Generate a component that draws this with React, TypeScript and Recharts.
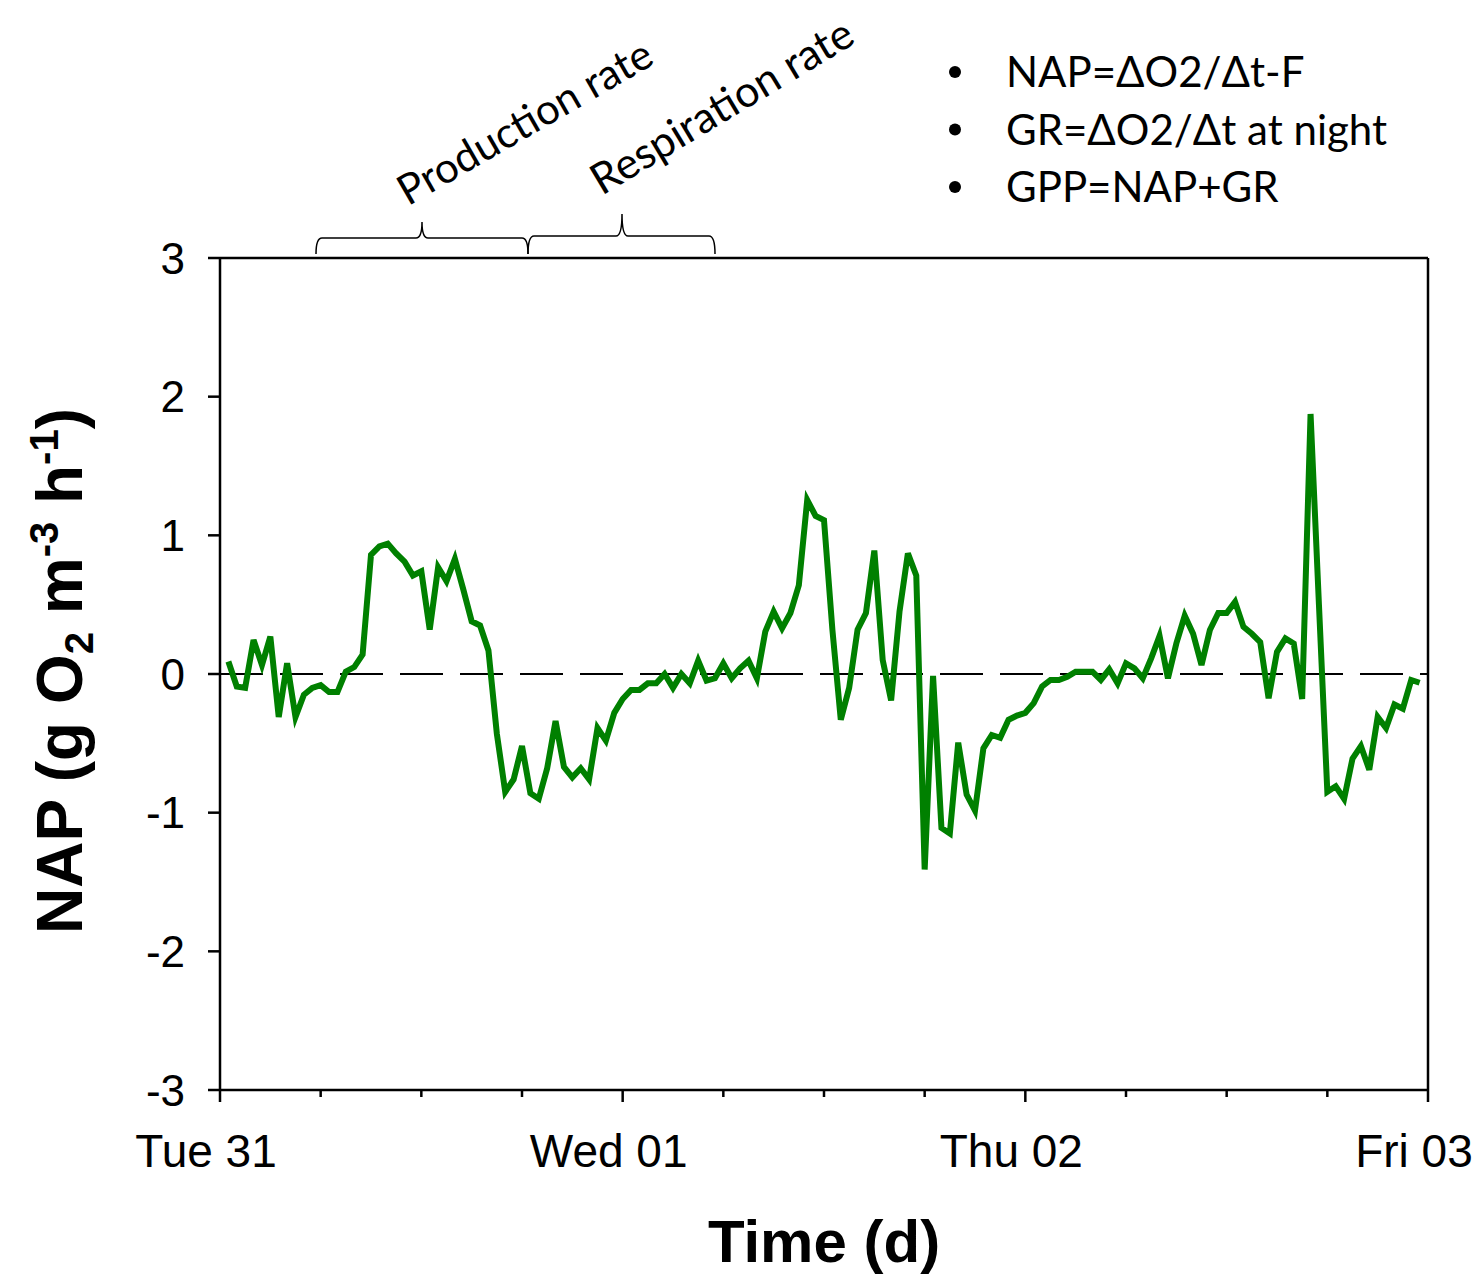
import React from 'react';
import { LineChart, Line, XAxis, YAxis, ReferenceLine } from 'recharts';

// NAP readings, one every half hour starting 00:30 Tue 31
const napValues = [
  0.09, -0.09, -0.1, 0.245, 0.065, 0.27, -0.31, 0.077, -0.31, -0.15,
  -0.1, -0.08, -0.13, -0.13, 0.017, 0.05, 0.14, 0.86, 0.92, 0.94,
  0.87, 0.81, 0.71, 0.74, 0.32, 0.77, 0.67, 0.83, 0.61, 0.38,
  0.35, 0.17, -0.43, -0.85, -0.76, -0.52, -0.86, -0.9, -0.68, -0.34,
  -0.67, -0.745, -0.68, -0.76, -0.39, -0.48, -0.28, -0.18, -0.115, -0.115,
  -0.067, -0.067, 0.0, -0.1, 0.0, -0.067, 0.096, -0.048, -0.031, 0.077,
  -0.031, 0.041, 0.096, -0.031, 0.305, 0.45, 0.33, 0.44, 0.64, 1.255,
  1.14, 1.11, 0.32, -0.33, -0.1, 0.32, 0.44, 0.89, 0.1, -0.19,
  0.45, 0.87, 0.71, -1.41, -0.014, -1.11, -1.15, -0.495, -0.87, -0.985,
  -0.536, -0.44, -0.46, -0.33, -0.3, -0.28, -0.21, -0.09, -0.043, -0.043,
  -0.02, 0.017, 0.017, 0.017, -0.043, 0.034, -0.067, 0.077, 0.041, -0.031,
  0.113, 0.274, -0.031, 0.22, 0.42, 0.29, 0.065, 0.317, 0.44, 0.44,
  0.52, 0.34, 0.29, 0.23, -0.175, 0.16, 0.257, 0.22, -0.18, 1.875,
  0.5, -0.85, -0.81, -0.9, -0.61, -0.52, -0.69, -0.31, -0.39, -0.22,
  -0.25, -0.043, -0.063,
];
const START_HOUR = 0.5;
const STEP_HOURS = 0.5;

const dayHours = [0, 24, 48, 72];
const dayLabels = ['Tue 31', 'Wed 01', 'Thu 02', 'Fri 03'];
const timeTicks = [0, 6, 12, 18, 24, 30, 36, 42, 48, 54, 60, 66, 72];
const napTicks = [-3, -2, -1, 0, 1, 2, 3];

const notes = ['NAP=\u0394O2/\u0394t-F', 'GR=\u0394O2/\u0394t at night', 'GPP=NAP+GR'];

const data = napValues.map((v, i) => ({ t: START_HOUR + i * STEP_HOURS, nap: v }));

const ARIAL = '"Liberation Sans", Arial, sans-serif';
const CALIBRI = 'Lato, "Open Sans", sans-serif';

function TimeTick(props: any) {
  const { x, y, payload } = props;
  const idx = dayHours.indexOf(payload.value);
  const major = idx >= 0;
  return (
    <g>
      <line x1={x} y1={y} x2={x} y2={y + (major ? 12 : 7)} stroke="#000" strokeWidth={2.5} />
      {major && (
        <text x={x - 14} y={y + 77} textAnchor="middle" fontSize={46} fontFamily={ARIAL} fill="#000">
          {dayLabels[idx]}
        </text>
      )}
    </g>
  );
}

// curly brace lying on its back, tip pointing up
function bracePath(x1: number, xm: number, x2: number, yEnd: number, yFlat: number, yTip: number) {
  return `M${x1},${yEnd} Q${x1},${yFlat} ${x1 + 6},${yFlat} L${xm - 6},${yFlat} Q${xm},${yFlat} ${xm},${yTip} ` +
    `Q${xm},${yFlat} ${xm + 6},${yFlat} L${x2 - 6},${yFlat} Q${x2},${yFlat} ${x2},${yEnd}`;
}

export default function App() {
  return (
    <div style={{ position: 'absolute', left: 0, top: 0, width: 1481, height: 1274, background: '#fff' }}>
      <LineChart width={1481} height={1274} data={data} margin={{ top: 258, right: 53, bottom: 124, left: 160 }}>
        <XAxis
          dataKey="t"
          type="number"
          domain={[0, 72]}
          ticks={timeTicks}
          interval={0}
          height={60}
          tickSize={0}
          tickMargin={0}
          tickLine={false}
          axisLine={{ stroke: '#000', strokeWidth: 2.5 }}
          tick={<TimeTick />}
        />
        <YAxis
          type="number"
          domain={[-3, 3]}
          ticks={napTicks}
          interval={0}
          width={60}
          tickSize={12}
          tickMargin={23}
          axisLine={{ stroke: '#000', strokeWidth: 2.5 }}
          tickLine={{ stroke: '#000', strokeWidth: 2.5 }}
          tick={{ fill: '#000', fontSize: 44, fontFamily: ARIAL }}
        />
        <ReferenceLine y={0} stroke="#000" strokeWidth={2} strokeDasharray="43 17" />
        <ReferenceLine y={3} stroke="#000" strokeWidth={2.5} />
        <ReferenceLine x={72} stroke="#000" strokeWidth={2.5} />
        <Line
          type="linear"
          dataKey="nap"
          stroke="#008000"
          strokeWidth={6}
          dot={false}
          isAnimationActive={false}
        />
      </LineChart>

      <svg width={1481} height={1274} style={{ position: 'absolute', left: 0, top: 0, pointerEvents: 'none' }}>
        <text transform="translate(82,671) rotate(-90)" textAnchor="middle" fontSize={64} fontWeight="bold" fontFamily={ARIAL} fill="#000">
          NAP (g O<tspan fontSize={40} dy={11}>2</tspan>
          <tspan dy={-11}> m</tspan>
          <tspan fontSize={40} dy={-24}>-3</tspan>
          <tspan dy={24}> h</tspan>
          <tspan fontSize={40} dy={-24}>-1</tspan>
          <tspan dy={24}>)</tspan>
        </text>
        <text x={824} y={1262} textAnchor="middle" fontSize={60} fontWeight="bold" fontFamily={ARIAL} fill="#000">
          Time (d)
        </text>

        <path d={bracePath(316, 422, 528, 254, 238, 222)} fill="none" stroke="#000" strokeWidth={1.5} />
        <path d={bracePath(528, 622, 715, 254, 236, 214)} fill="none" stroke="#000" strokeWidth={1.5} />
        <text transform="translate(524,121) rotate(-30)" textAnchor="middle" dominantBaseline="central" fontSize={42} fontFamily={CALIBRI} fill="#000">
          Production rate
        </text>
        <text transform="translate(721,105) rotate(-31)" textAnchor="middle" dominantBaseline="central" fontSize={43} fontFamily={CALIBRI} fill="#000">
          Respiration rate
        </text>

        {notes.map((n, i) => (
          <g key={n}>
            <circle cx={955} cy={72 + i * 57.5} r={6} fill="#000" />
            <text x={1006} y={87 + i * 57.5} fontSize={42} fontFamily={CALIBRI} fill="#000">
              {n}
            </text>
          </g>
        ))}
      </svg>
    </div>
  );
}
